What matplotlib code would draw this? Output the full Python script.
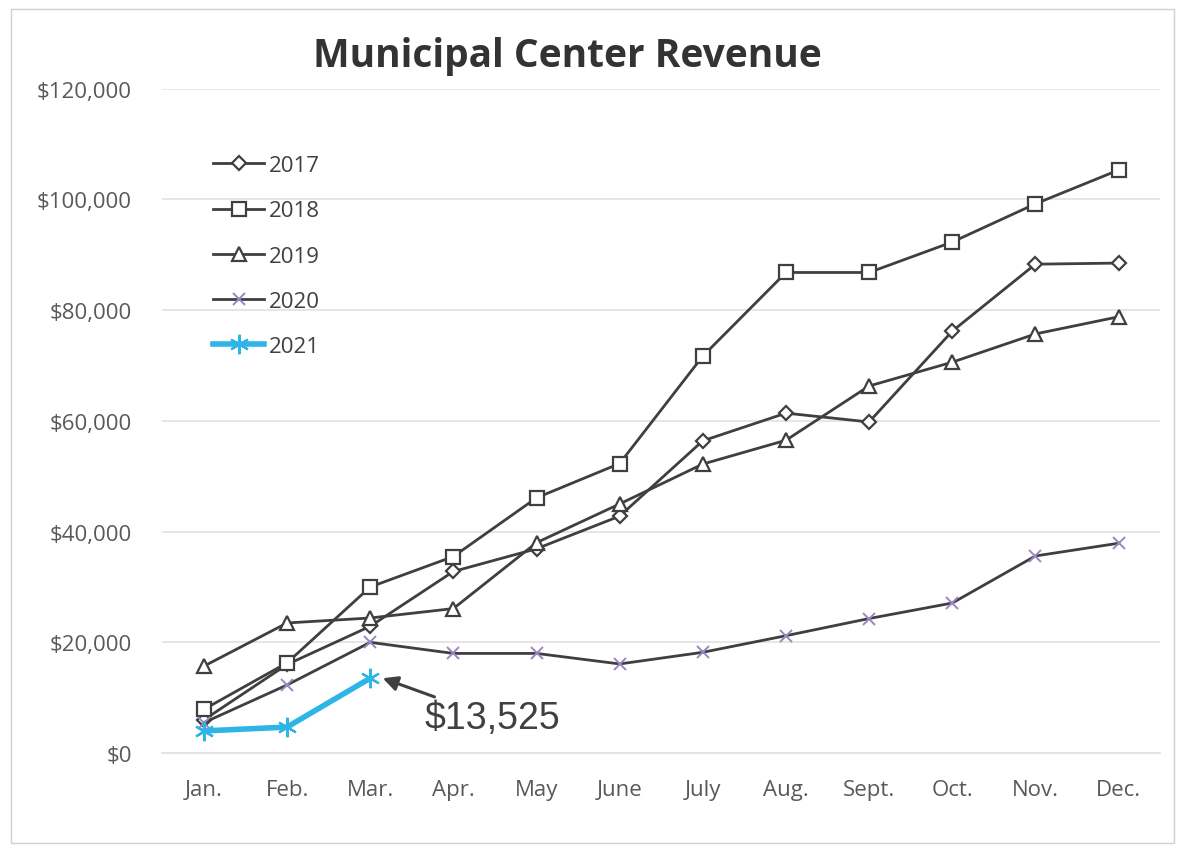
import matplotlib
matplotlib.use("Agg")
import matplotlib.pyplot as plt
from matplotlib.ticker import FuncFormatter
from matplotlib.patches import Rectangle

months = ["Jan.", "Feb.", "Mar.", "Apr.", "May", "June", "July", "Aug.", "Sept.", "Oct.", "Nov.", "Dec."]
rev_2017 = [6000, 16000, 22900, 32800, 36900, 42800, 56400, 61400, 59800, 76200, 88300, 88500]
rev_2018 = [7900, 16300, 30000, 35500, 46100, 52300, 71700, 86800, 86800, 92300, 99200, 105300]
rev_2019 = [15700, 23500, 24400, 26100, 38000, 45000, 52200, 56500, 66300, 70600, 75700, 78800]
rev_2020 = [5500, 12300, 20000, 18000, 18000, 16100, 18200, 21200, 24300, 27100, 35600, 37900]
rev_2021 = [4000, 4700, 13525]
yticks = [0, 20000, 40000, 60000, 80000, 100000, 120000]
annot_text = "$13,525"

plt.rcParams['font.family'] = ['Open Sans', 'DejaVu Sans']

fig = plt.figure(figsize=(11.85, 8.54), dpi=100)
ax = fig.add_axes([0.137, 0.117, 0.842, 0.778])

x = list(range(len(months)))
dark = "#3f3f3f"
kw = dict(color=dark, lw=2.0, markersize=10, markerfacecolor="white",
          markeredgecolor=dark, markeredgewidth=1.6)
ax.plot(x, rev_2017, marker="D", label="2017", **{**kw, "markersize": 7.5})
ax.plot(x, rev_2018, marker="s", label="2018", **kw)
ax.plot(x, rev_2019, marker="^", label="2019", **kw)
ax.plot(x, rev_2020, marker="x", label="2020", color=dark, lw=2.0,
        markersize=9, markeredgecolor="#9b86c0", markeredgewidth=1.4)
ax.plot(x[:len(rev_2021)], rev_2021, marker=(6, 2, 0), label="2021", color="#2fb4e6",
        lw=4.0, markersize=14, markeredgecolor="#2fb4e6", markeredgewidth=1.6)

ax.set_xlim(-0.5, len(months) - 0.5)
ax.set_ylim(0, 120000)
ax.set_yticks(yticks)
ax.yaxis.set_major_formatter(FuncFormatter(lambda v, p: f"${int(v):,}"))
ax.set_xticks(x)
ax.set_xticklabels(months)
ax.tick_params(axis="both", length=0, labelsize=16, labelcolor="#595959")
ax.tick_params(axis="x", pad=19)
ax.tick_params(axis="y", pad=22)
ax.grid(axis="y", color="#e2e2e2", lw=1.2)
ax.set_axisbelow(True)
for s in ["left", "right", "top"]:
    ax.spines[s].set_visible(False)
ax.spines["bottom"].set_color("#e2e2e2")
ax.spines["bottom"].set_linewidth(1.2)

leg = ax.legend(loc="upper left", bbox_to_anchor=(0.031, 0.93), frameon=False,
                fontsize=16, labelcolor="#404040", handlelength=2.3,
                handletextpad=0.2, labelspacing=1.09)

ax.annotate(annot_text, xy=(2.15, 13525), xytext=(2.65, 6400),
            fontsize=27, color="#404040", family="Liberation Sans",
            va="center", ha="left",
            arrowprops=dict(arrowstyle="-|>", color="#404040", lw=2.2,
                            mutation_scale=22, shrinkA=0, shrinkB=0))

fig.text(0.479, 0.934, "Municipal Center Revenue", ha="center", va="center",
         fontsize=28, fontweight="bold", color="#333333")

fig.patches.append(Rectangle((0.009, 0.012), 0.982, 0.976, transform=fig.transFigure,
                             fill=False, edgecolor="#d0d0d0", lw=1.0))

fig.savefig("out.png", dpi=100, facecolor="white")
